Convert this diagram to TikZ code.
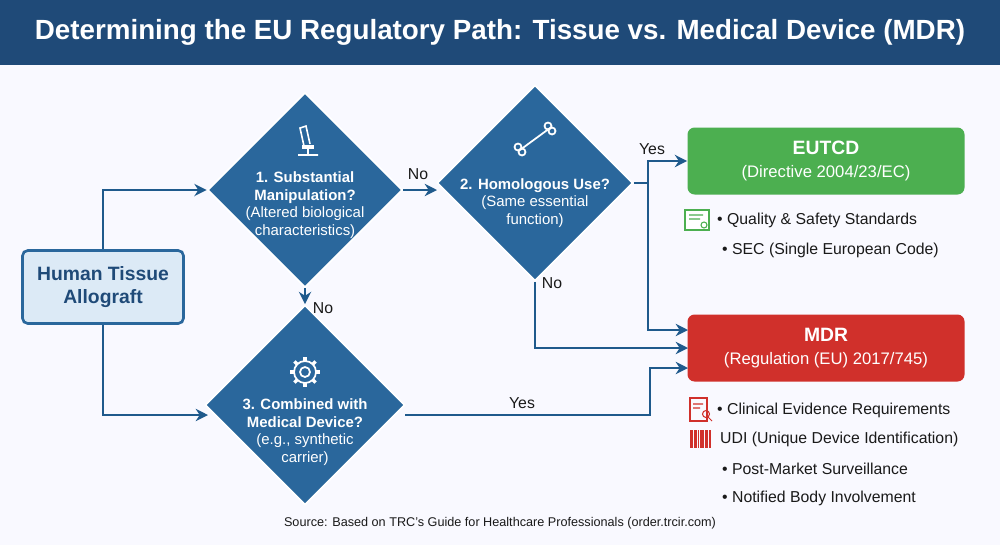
\documentclass[tikz,border=0pt]{standalone}
\usepackage{fontspec}
\setmainfont{Liberation Sans}
\usetikzlibrary{shapes.geometric,arrows.meta}
\definecolor{navy}{HTML}{1F4A78}
\definecolor{dblue}{HTML}{2A679C}
\definecolor{lblue}{HTML}{DCEAF6}
\definecolor{arr}{HTML}{1F5A8C}
\definecolor{gr}{HTML}{4CAF50}
\definecolor{rd}{HTML}{D0302B}
\definecolor{txt}{HTML}{1A1A1A}
\begin{document}
\begin{tikzpicture}[x=0.02cm,y=-0.02cm,
  dia/.style={diamond,fill=dblue,draw=white,line width=1pt,minimum width=#1*0.02cm,minimum height=#1*0.02cm,aspect=1,inner sep=0pt,text=white,align=center,font=\fontsize{8.5}{10}\selectfont},
  box/.style={rounded corners=4pt,minimum width=277*0.02cm,minimum height=67*0.02cm,text=white,align=center,font=\fontsize{9.5}{13}\selectfont},
  con/.style={draw=arr,line width=1.3pt,-{Stealth[length=7pt,width=7pt]}},
  lab/.style={font=\fontsize{9}{11}\selectfont,text=txt},
  bul/.style={font=\fontsize{9}{11}\selectfont,text=txt,anchor=west}]
\useasboundingbox (0,0) rectangle (1000,545);
\fill[white!94!blue!40!white] (0,0) rectangle (1000,545);
\fill[navy] (0,0) rectangle (1000,65);
\node[text=white,font=\bfseries\fontsize{15.8}{20}\selectfont] (title) at (500,32) {Determining the EU Regulatory Path: Tissue vs. Medical Device (MDR)};
\node[draw=dblue,line width=1.5pt,fill=lblue,rounded corners=3pt,minimum width=161*0.02cm,minimum height=73*0.02cm,align=center,text=navy,font=\bfseries\fontsize{11}{13}\selectfont] (ht) at (103,287) {Human Tissue\\Allograft};
\node[dia=195] (d1) at (305,190) {};
\node[text=white,align=center,font=\fontsize{8.5}{10}\selectfont] (d1t) at (305,205) {\textbf{1. Substantial}\\\textbf{Manipulation?}\\(Altered biological\\characteristics)};
\node[dia=196] (d2) at (535,183) {};
\node[text=white,align=center,font=\fontsize{8.5}{10}\selectfont] (d2t) at (535,203) {\textbf{2. Homologous Use?}\\(Same essential\\function)};
\node[dia=200] (d3) at (305,405) {};
\node[text=white,align=center,font=\fontsize{8.5}{10}\selectfont] (d3t) at (305,432) {\textbf{3. Combined with}\\\textbf{Medical Device?}\\(e.g., synthetic\\carrier)};
% icons
\draw[white,line width=0.9pt] (298,155) -- (318,155) (308,155) -- (308,148) (303,148) rectangle (313,146) (304,146) -- (300,128) -- (306,126) -- (310,144);
\draw[white,line width=1pt] (520,150) -- (550,128);
\foreach \p in {(518,147),(522,152),(548,126),(552,131)} \draw[white,line width=1pt] \p circle (3.5);
\draw[white,line width=1pt] (305,372) circle (5) (305,372) circle (11);
\foreach \a in {0,45,...,315} \draw[white,line width=2pt] (305,372)++(\a:11) -- ++(\a:4);
\node[box,fill=gr] (eu) at (826,161) {\textbf{\fontsize{11}{13}\selectfont EUTCD}\\(Directive 2004/23/EC)};
\node[box,fill=rd] (mdr) at (826,348) {\textbf{\fontsize{11}{13}\selectfont MDR}\\(Regulation (EU) 2017/745)};
% bullets
\draw[gr,line width=0.8pt,fill=white] (685,210) rectangle (709,230);
\draw[gr,line width=0.6pt] (689,215)--(703,215) (689,219)--(700,219) (704,225) circle (3);
\node[bul] (b1) at (711,220) {• Quality \& Safety Standards};
\node[bul] (b2) at (716,250) {• SEC (Single European Code)};
\draw[rd,line width=0.8pt] (690,398) rectangle (707,421);
\draw[rd,line width=0.6pt] (693,404)--(703,404) (693,408)--(700,408) (706,414) circle (3.5) (708,417)--(712,421);
\foreach \i in {0,3,6,9} \draw[rd,line width=1.2pt] (691+\i*1.8,430) -- (691+\i*1.8,448);
\foreach \i in {1,2,4,5,7,8,10,11} \draw[rd,line width=0.5pt] (691+\i*1.8,430) -- (691+\i*1.8,448);
\node[bul] (b3) at (711,410) {• Clinical Evidence Requirements};
\node[bul] (b4) at (714,439) {UDI (Unique Device Identification)};
\node[bul] (b5) at (716,469) {• Post-Market Surveillance};
\node[bul] (b6) at (716,498) {• Notified Body Involvement};
% connectors
\coordinate (c1) at (103,190);
\draw[con] (ht.north) -- (c1) -- (d1.west);
\draw[con] (ht.south) |- (208,415);
\draw[con] (d1.east) -- (437,190);
\node[lab] (no1) at (418,174) {No};
\draw[con] (d1.south) -- (d3.north);
\node[lab] (no2) at (323,308) {No};
\coordinate (s2) at (648,183);
\draw[con] (d2.east) -- (s2) |- (eu.west);
\draw[con] (s2) |- (688,330);
\node[lab] (yes1) at (652,149) {Yes};
\draw[con] (d2.south) |- (688,348);
\node[lab] (no3) at (552,283) {No};
\draw[con] (405,415) -- (650,415) |- (688,368);
\node[lab] (yes2) at (522,403) {Yes};
\node[font=\fontsize{7.2}{9}\selectfont,text=txt] (src) at (500,523) {Source: Based on TRC’s Guide for Healthcare Professionals (order.trcir.com)};
\end{tikzpicture}
\end{document}
